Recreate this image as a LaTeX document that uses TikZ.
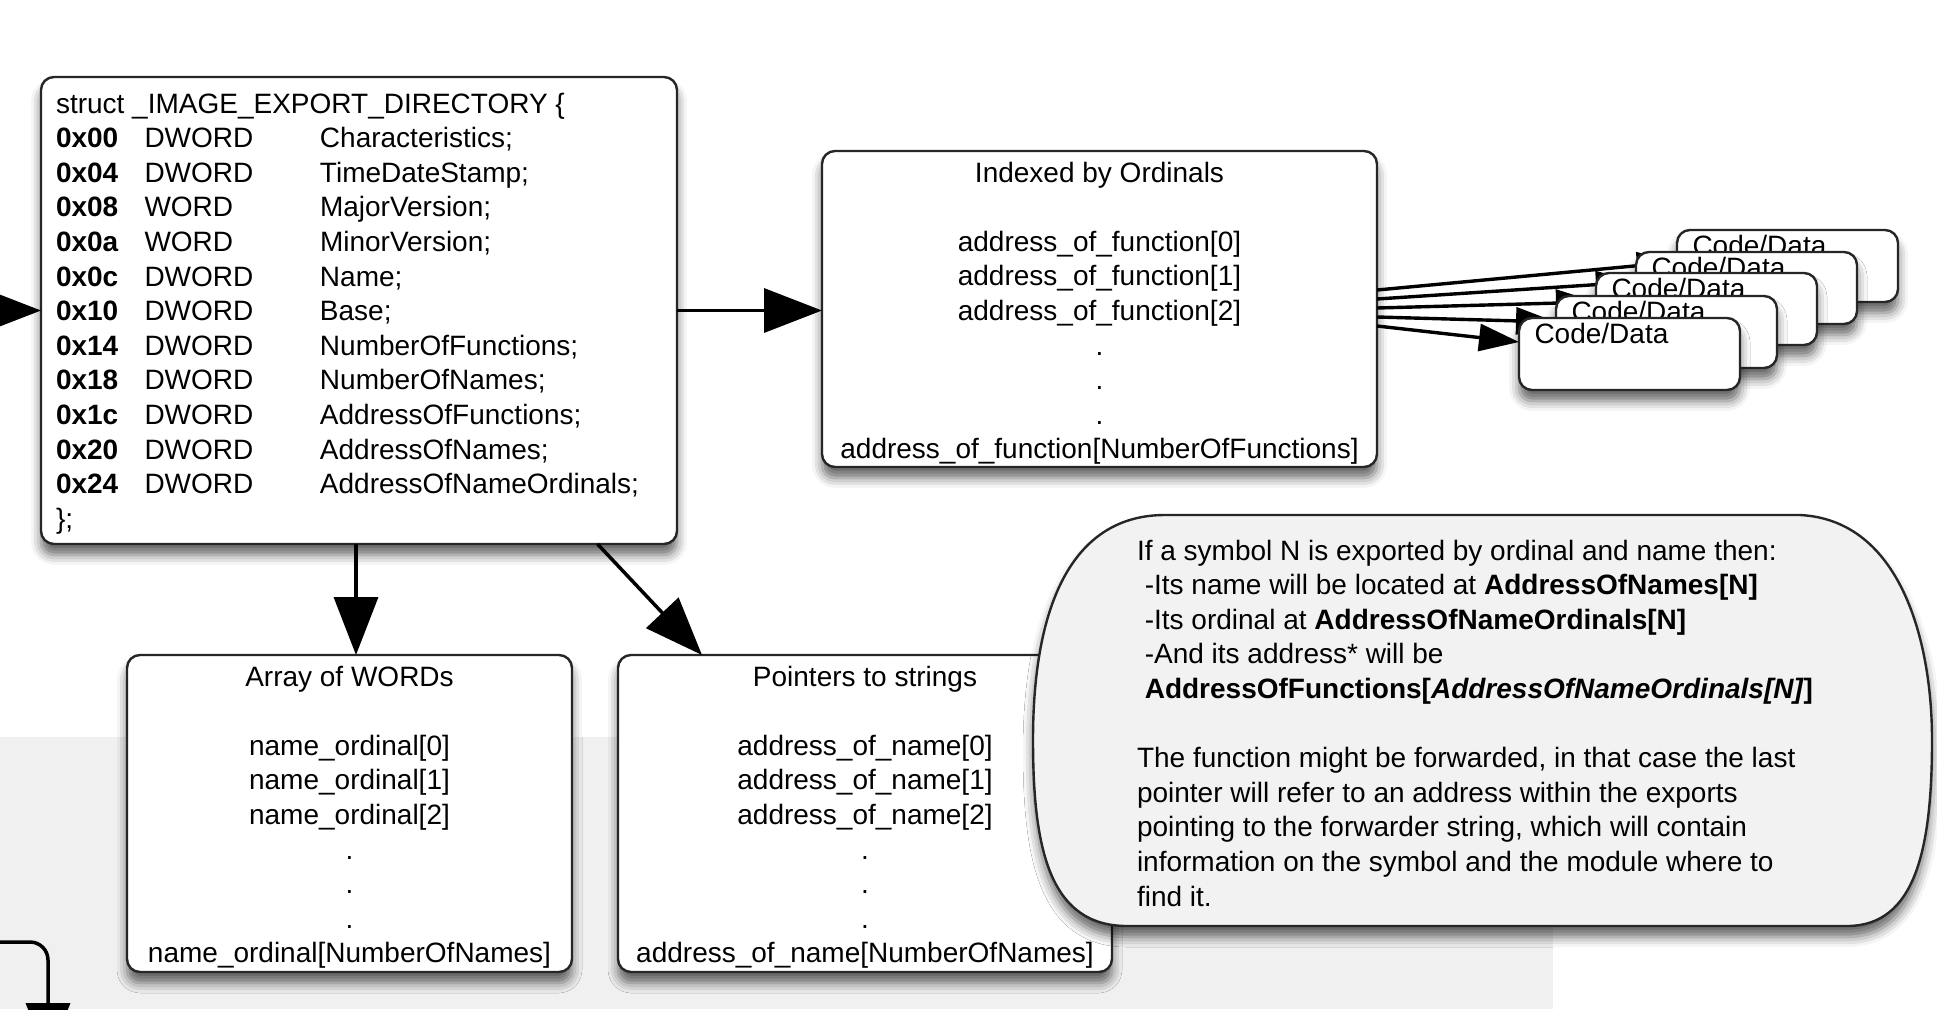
\documentclass[tikz,border=0pt]{standalone}
\usepackage{fontspec}
\setmainfont{Liberation Sans}
\usetikzlibrary{arrows.meta,calc,shadows.blur}
\begin{document}
\begin{tikzpicture}[x=1pt,y=-1pt,
  every node/.style={inner sep=0pt,outer sep=0pt,font=\fontsize{28}{34.6}\selectfont},
  box/.style={draw=black!85,line width=2.4pt,fill=white,rounded corners=13pt},
  shad/.style={blur shadow={shadow xshift=0pt,shadow yshift=-11pt,shadow blur radius=10pt,shadow opacity=60}},
  arr/.style={draw=black,opacity=1,line width=3.5pt,-{Triangle[length=58pt,width=44pt,fill=black]}},
  sarr/.style={draw=black,opacity=1,line width=3.4pt,-{Triangle[length=40pt,width=27pt,fill=black]}},
  cdslot/.style={minimum width=221pt,minimum height=72pt},
  cdbox/.style={box,shad},
  txt/.style={anchor=base west},
  ctxt/.style={anchor=base},
  notebox/.style={draw=black!85,line width=2.4pt,fill=black!5,shad},
]
\useasboundingbox (0,0) rectangle (1937,1009);
\clip (0,0) rectangle (1937,1009);
\fill[black!6] (0,737) rectangle (1553,1009);

% main boxes
\node[box,shad,minimum width=636pt,minimum height=467pt] (struct) at (359,310.5) {};
\node[box,shad,minimum width=555pt,minimum height=316pt] (indexed) at (1099.5,309) {};
\node[box,shad,minimum width=445pt,minimum height=317pt] (array) at (349.5,813.5) {};
\node[box,shad,minimum width=494pt,minimum height=317pt] (pointers) at (865,813.5) {};

% struct text
\node[txt] (structtxt) at (56,113) {\begin{tabular}[t]{@{}p{88.5pt}@{}p{175.5pt}@{}l@{}}
\multicolumn{3}{@{}l@{}}{struct \_IMAGE\_EXPORT\_DIRECTORY \{}\\
\textbf{0x00} & DWORD & Characteristics;\\
\textbf{0x04} & DWORD & TimeDateStamp;\\
\textbf{0x08} & WORD & MajorVersion;\\
\textbf{0x0a} & WORD & MinorVersion;\\
\textbf{0x0c} & DWORD & Name;\\
\textbf{0x10} & DWORD & Base;\\
\textbf{0x14} & DWORD & NumberOfFunctions;\\
\textbf{0x18} & DWORD & NumberOfNames;\\
\textbf{0x1c} & DWORD & AddressOfFunctions;\\
\textbf{0x20} & DWORD & AddressOfNames;\\
\textbf{0x24} & DWORD & AddressOfNameOrdinals;\\
\multicolumn{3}{@{}l@{}}{\};}
\end{tabular}};

\node[ctxt] (idxtxt) at (1099.5,182) {\begin{tabular}[t]{@{}c@{}}
Indexed by Ordinals\\
\\
address\_of\_function[0]\\
address\_of\_function[1]\\
address\_of\_function[2]\\
.\\
.\\
.\\
address\_of\_function[NumberOfFunctions]
\end{tabular}};

\node[ctxt] (arraytxt) at (349.5,686) {\begin{tabular}[t]{@{}c@{}}
Array of WORDs\\
\\
name\_ordinal[0]\\
name\_ordinal[1]\\
name\_ordinal[2]\\
.\\
.\\
.\\
name\_ordinal[NumberOfNames]
\end{tabular}};

\node[ctxt] (ptrtxt) at (865,686) {\begin{tabular}[t]{@{}c@{}}
Pointers to strings\\
\\
address\_of\_name[0]\\
address\_of\_name[1]\\
address\_of\_name[2]\\
.\\
.\\
.\\
address\_of\_name[NumberOfNames]
\end{tabular}};

% code/data box places
\node[cdslot] (cd5) at (1787.5,266) {};
\node[cdslot] (cd4) at (1746.5,288) {};
\node[cdslot] (cd3) at (1706.5,309) {};
\node[cdslot] (cd2) at (1666.5,332) {};
\node[cdslot] (cd1) at (1629.5,354) {};

% arrows to code/data (drawn before the boxes that hide them)
\draw[sarr] ([yshift=19pt]indexed.east) -- ([yshift=4pt]cd5.west);
\draw[sarr] ([yshift=10pt]indexed.east) -- ([yshift=6pt]cd4.west);
\draw[sarr] ([yshift=1pt]indexed.east) -- ([yshift=7pt]cd3.west);
\draw[sarr] ([yshift=-8pt]indexed.east) -- ([yshift=10pt]cd2.west);
\draw[sarr] ([yshift=-17pt]indexed.east) -- ([yshift=12pt]cd1.west);

% code/data boxes, back to front
\begin{scope}
\path[cdbox] (cd5.south west) rectangle (cd5.north east);
\end{scope}
\node[txt] (cd5t) at (1692.5,255) {Code/Data};
\begin{scope}
\path[cdbox] (cd4.south west) rectangle (cd4.north east);
\end{scope}
\node[txt] (cd4t) at (1651.5,277) {Code/Data};
\begin{scope}
\path[cdbox] (cd3.south west) rectangle (cd3.north east);
\end{scope}
\node[txt] (cd3t) at (1611.5,298) {Code/Data};
\begin{scope}
\path[cdbox] (cd2.south west) rectangle (cd2.north east);
\end{scope}
\node[txt] (cd2t) at (1571.5,321) {Code/Data};
\begin{scope}
\path[cdbox] (cd1.south west) rectangle (cd1.north east);
\end{scope}
\node[txt] (cd1t) at (1534.5,343) {Code/Data};

% main arrows
\coordinate (inL) at (-40,310.5);
\draw[arr] (inL) -- (struct.west);
\draw[arr] (struct.east) -- (struct.east -| indexed.west);
\draw[arr] ([xshift=6.5pt]array.north |- struct.south) -- ([xshift=6.5pt]array.north);
\draw[arr] ($(struct.south west)!0.875!(struct.south east)$) -- ($(pointers.north west)!0.17!(pointers.north east)$);

% bottom-left connector
\coordinate (blA) at (-20,942);
\coordinate (blB) at (48,1061);
\draw[arr,rounded corners=18pt] (blA) -| (blB);

% note
\begin{scope}
\draw[notebox] (1165,515) -- (1800,515)
  .. controls (1900,520) and (1932,640) .. (1932,740)
  .. controls (1932,850) and (1915,926) .. (1847,926)
  -- (1127,926)
  .. controls (1050,926) and (1033,850) .. (1033,740)
  .. controls (1033,600) and (1075,515) .. (1165,515) -- cycle;
\end{scope}
\node[txt] (notetxt) at (1137,560) {\begin{tabular}[t]{@{}l@{}}
If a symbol N is exported by ordinal and name then:\\
\hspace*{7.8pt}-Its name will be located at \textbf{AddressOfNames[N]}\\
\hspace*{7.8pt}-Its ordinal at \textbf{AddressOfNameOrdinals[N]}\\
\hspace*{7.8pt}-And its address* will be\\
\hspace*{7.8pt}\textbf{AddressOfFunctions[\textit{AddressOfNameOrdinals[N]}]}\\
\\
The function might be forwarded, in that case the last\\
pointer will refer to an address within the exports\\
pointing to the forwarder string, which will contain\\
information on the symbol and the module where to\\
find it.
\end{tabular}};
\end{tikzpicture}
\end{document}
